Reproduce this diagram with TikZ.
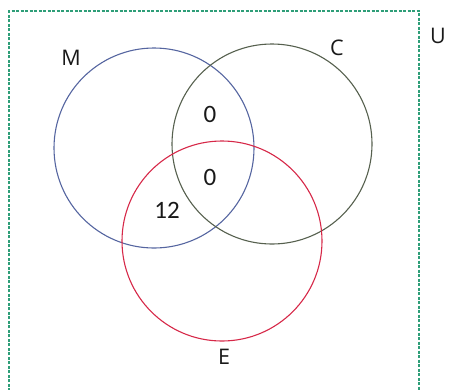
\documentclass[tikz,border=0pt]{standalone}
\usepackage{fontspec}
\setmainfont{Open Sans}
\newfontfamily\numfont{Carlito}
\definecolor{mblue}{HTML}{5565A0}
\definecolor{cgray}{HTML}{56604E}
\definecolor{ered}{HTML}{D62848}
\definecolor{ugreen}{HTML}{2E9E78}
\begin{document}
\begin{tikzpicture}[x=1pt,y=-1pt,
  setlabel/.style={font=\fontsize{21.5}{22}\selectfont, text=black!90, inner sep=0pt},
  numlabel/.style={font=\numfont\fontsize{25}{25}\selectfont, text=black!90, inner sep=0pt},
  ring/.style={line width=1.1pt}]
\useasboundingbox (0,0) rectangle (449,389);
\draw[ugreen, line width=1.2pt, dash pattern=on 3pt off 1.5pt] (9,400) -- (9,11) -- (419,11) -- (419,400);
\draw[ring, mblue] (154,148) circle (100);
\draw[ring, cgray] (272,144) circle (100);
\draw[ring, ered] (222,241) circle (100);
\node[setlabel] (lm) at (71,58) {M};
\node[setlabel] (lc) at (337,48) {C};
\node[setlabel] (lu) at (438,36) {U};
\node[setlabel] (le) at (224,357) {E};
\node[numlabel] (n1) at (210,114) {0};
\node[numlabel] (n2) at (210,177) {0};
\node[numlabel] (n3) at (167,210) {12};
\end{tikzpicture}
\end{document}
